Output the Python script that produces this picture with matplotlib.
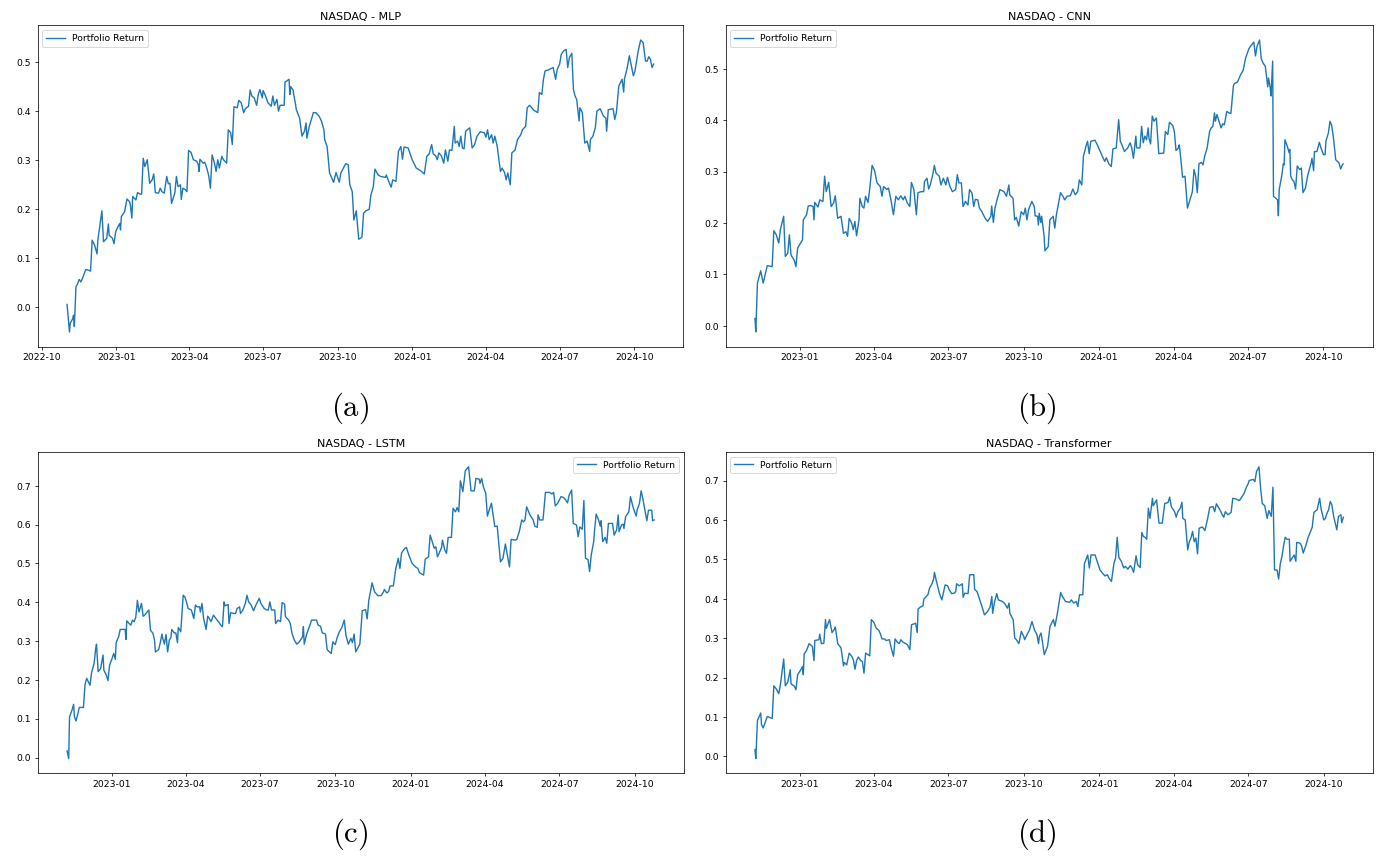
import matplotlib
matplotlib.use('Agg')
import matplotlib.pyplot as plt
import matplotlib.dates as mdates
import pandas as pd

# CM font for the (a)/(b)/(c)/(d) captions
plt.rcParams['mathtext.fontset'] = 'cm'

# values: day offset from the start date, return
mlp_start = '2022-11-01'
mlp_days = [0, 3, 4, 7, 8, 9, 11, 13, 15, 17, 19, 23, 26, 29, 31, 34, 37, 38, 43, 45,
            49, 51, 52, 56, 58, 60, 63, 65, 66, 67, 71, 74, 77, 78, 80, 81, 85, 87, 90, 92,
            94, 96, 99, 102, 105, 107, 109, 113, 115, 117, 120, 123, 125, 127, 129, 133, 135, 137, 140, 141,
            143, 146, 148, 150, 153, 156, 160, 162, 163, 164, 168, 170, 173, 175, 177, 179, 182, 184, 186, 188,
            191, 193, 197, 199, 202, 204, 206, 210, 212, 215, 218, 220, 224, 226, 228, 231, 234, 236, 238, 241,
            242, 245, 248, 252, 254, 256, 259, 261, 263, 268, 269, 274, 275, 276, 279, 280, 282, 283, 287, 290,
            293, 295, 296, 299, 302, 304, 307, 311, 314, 317, 318, 321, 324, 329, 332, 336, 338, 342, 344, 347,
            349, 352, 354, 357, 360, 364, 366, 369, 373, 375, 378, 380, 384, 387, 393, 394, 397, 400, 402, 406,
            409, 412, 414, 416, 421, 426, 431, 436, 441, 444, 447, 450, 452, 455, 457, 459, 462, 465, 467, 470,
            472, 475, 478, 479, 482, 484, 486, 488, 490, 492, 494, 497, 500, 503, 506, 510, 515, 517, 519, 521,
            524, 526, 528, 531, 533, 535, 537, 540, 542, 544, 547, 549, 553, 556, 560, 562, 566, 568, 571, 576,
            581, 583, 586, 588, 590, 594, 600, 603, 605, 608, 610, 613, 616, 618, 620, 623, 625, 627, 629, 632,
            633, 636, 639, 642, 645, 646, 649, 652, 654, 658, 662, 665, 666, 668, 674, 676, 678, 681, 685, 687,
            688, 691, 694, 697, 699, 701, 705, 708, 711, 714, 716, 718, 720, 722, 724]
mlp_vals = [0.006, -0.050, -0.032, -0.023, -0.016, -0.039, 0.042, 0.048, 0.057, 0.052, 0.059, 0.077, 0.076, 0.074, 0.137, 0.127, 0.109, 0.137, 0.197, 0.134,
            0.141, 0.170, 0.147, 0.141, 0.130, 0.154, 0.165, 0.171, 0.158, 0.185, 0.195, 0.221, 0.216, 0.211, 0.182, 0.226, 0.219, 0.234, 0.231, 0.231,
            0.304, 0.287, 0.301, 0.253, 0.260, 0.272, 0.234, 0.233, 0.243, 0.236, 0.233, 0.267, 0.252, 0.253, 0.212, 0.233, 0.267, 0.246, 0.250, 0.220,
            0.243, 0.240, 0.236, 0.320, 0.316, 0.301, 0.298, 0.291, 0.277, 0.302, 0.294, 0.296, 0.281, 0.267, 0.243, 0.311, 0.294, 0.277, 0.301, 0.284,
            0.308, 0.301, 0.294, 0.362, 0.356, 0.332, 0.409, 0.407, 0.422, 0.417, 0.397, 0.405, 0.410, 0.443, 0.431, 0.427, 0.412, 0.434, 0.444, 0.427,
            0.442, 0.431, 0.417, 0.410, 0.431, 0.412, 0.424, 0.400, 0.412, 0.412, 0.459, 0.465, 0.434, 0.450, 0.443, 0.432, 0.414, 0.403, 0.386, 0.349,
            0.359, 0.376, 0.345, 0.369, 0.386, 0.397, 0.397, 0.390, 0.380, 0.362, 0.342, 0.328, 0.274, 0.255, 0.275, 0.255, 0.274, 0.287, 0.293, 0.291,
            0.250, 0.236, 0.178, 0.197, 0.139, 0.143, 0.192, 0.197, 0.200, 0.229, 0.246, 0.282, 0.270, 0.267, 0.265, 0.270, 0.257, 0.245, 0.260, 0.257,
            0.318, 0.328, 0.302, 0.327, 0.325, 0.301, 0.284, 0.279, 0.272, 0.308, 0.313, 0.332, 0.313, 0.309, 0.301, 0.315, 0.309, 0.294, 0.321, 0.298,
            0.321, 0.320, 0.369, 0.335, 0.339, 0.328, 0.349, 0.325, 0.323, 0.359, 0.362, 0.366, 0.325, 0.332, 0.349, 0.358, 0.356, 0.347, 0.362, 0.342,
            0.352, 0.335, 0.349, 0.328, 0.301, 0.277, 0.284, 0.275, 0.260, 0.274, 0.250, 0.315, 0.321, 0.342, 0.352, 0.362, 0.369, 0.407, 0.412, 0.402,
            0.397, 0.438, 0.434, 0.465, 0.482, 0.484, 0.489, 0.465, 0.485, 0.496, 0.516, 0.523, 0.526, 0.489, 0.509, 0.518, 0.444, 0.431, 0.424, 0.380,
            0.407, 0.397, 0.335, 0.339, 0.318, 0.342, 0.349, 0.366, 0.400, 0.405, 0.390, 0.386, 0.359, 0.403, 0.405, 0.383, 0.397, 0.451, 0.465, 0.439,
            0.466, 0.485, 0.513, 0.489, 0.472, 0.482, 0.523, 0.545, 0.540, 0.502, 0.502, 0.511, 0.506, 0.489, 0.496]

cnn_start = '2022-11-07'
cnn_days = [0, 1, 3, 7, 10, 15, 21, 23, 26, 29, 31, 35, 37, 40, 42, 44, 48, 50, 52, 56,
            58, 59, 63, 65, 68, 71, 72, 73, 77, 79, 83, 85, 87, 90, 93, 96, 98, 101, 105, 108,
            111, 113, 115, 118, 120, 122, 124, 127, 128, 131, 133, 135, 138, 140, 143, 146, 149, 153, 155, 157,
            161, 163, 166, 169, 172, 175, 178, 181, 183, 186, 189, 191, 194, 197, 199, 203, 206, 207, 210, 212,
            214, 217, 219, 221, 225, 227, 230, 233, 235, 238, 241, 245, 247, 249, 252, 254, 257, 260, 262, 265,
            267, 269, 272, 274, 277, 281, 284, 288, 289, 291, 293, 296, 299, 304, 307, 310, 311, 315, 317, 319,
            322, 325, 328, 330, 332, 334, 338, 341, 342, 345, 346, 347, 349, 350, 353, 354, 358, 360, 364, 366,
            368, 373, 376, 378, 381, 385, 388, 391, 394, 396, 399, 401, 404, 406, 408, 410, 415, 418, 424, 427,
            429, 432, 435, 437, 441, 444, 446, 448, 451, 455, 458, 460, 462, 465, 466, 470, 472, 474, 476, 478,
            480, 481, 483, 485, 487, 490, 493, 499, 501, 504, 506, 510, 512, 514, 517, 518, 520, 522, 525, 528,
            531, 534, 536, 538, 540, 542, 545, 547, 549, 552, 555, 557, 559, 561, 562, 564, 569, 571, 573, 576,
            579, 581, 584, 585, 589, 593, 596, 599, 603, 605, 609, 611, 613, 616, 618, 620, 623, 626, 627, 629,
            630, 632, 633, 636, 638, 639, 640, 643, 645, 646, 647, 650, 652, 653, 654, 656, 658, 660, 662, 665,
            667, 669, 672, 675, 679, 680, 682, 683, 686, 689, 691, 694, 696, 697, 700, 702, 704, 706, 709, 713,
            715, 717, 718]
cnn_vals = [0.014, -0.012, 0.083, 0.107, 0.083, 0.117, 0.115, 0.185, 0.177, 0.161, 0.187, 0.213, 0.135, 0.141, 0.177, 0.138, 0.127, 0.115, 0.151, 0.162,
            0.167, 0.206, 0.216, 0.233, 0.234, 0.232, 0.206, 0.240, 0.231, 0.245, 0.242, 0.291, 0.261, 0.279, 0.232, 0.239, 0.253, 0.209, 0.213, 0.180,
            0.183, 0.174, 0.209, 0.200, 0.187, 0.203, 0.175, 0.206, 0.248, 0.232, 0.229, 0.252, 0.240, 0.265, 0.312, 0.302, 0.278, 0.271, 0.252, 0.271,
            0.265, 0.268, 0.245, 0.216, 0.252, 0.245, 0.253, 0.245, 0.252, 0.239, 0.232, 0.279, 0.265, 0.216, 0.259, 0.261, 0.261, 0.281, 0.287, 0.266,
            0.274, 0.294, 0.312, 0.297, 0.291, 0.274, 0.287, 0.274, 0.289, 0.271, 0.261, 0.265, 0.294, 0.278, 0.278, 0.232, 0.242, 0.235, 0.265, 0.258,
            0.232, 0.246, 0.245, 0.229, 0.222, 0.209, 0.203, 0.213, 0.233, 0.201, 0.229, 0.248, 0.265, 0.261, 0.252, 0.274, 0.255, 0.248, 0.206, 0.211,
            0.194, 0.222, 0.216, 0.229, 0.206, 0.226, 0.242, 0.232, 0.214, 0.213, 0.196, 0.219, 0.201, 0.213, 0.174, 0.146, 0.154, 0.206, 0.213, 0.190,
            0.216, 0.259, 0.252, 0.245, 0.252, 0.253, 0.266, 0.255, 0.261, 0.284, 0.274, 0.330, 0.349, 0.359, 0.335, 0.359, 0.361, 0.352, 0.330, 0.320,
            0.327, 0.315, 0.310, 0.344, 0.346, 0.401, 0.359, 0.352, 0.339, 0.346, 0.356, 0.346, 0.326, 0.369, 0.346, 0.346, 0.388, 0.356, 0.369, 0.362,
            0.385, 0.365, 0.354, 0.408, 0.398, 0.404, 0.335, 0.336, 0.378, 0.372, 0.396, 0.390, 0.378, 0.341, 0.346, 0.352, 0.323, 0.289, 0.291, 0.229,
            0.245, 0.261, 0.304, 0.291, 0.259, 0.315, 0.318, 0.313, 0.330, 0.346, 0.378, 0.385, 0.388, 0.414, 0.398, 0.411, 0.385, 0.393, 0.391, 0.417,
            0.414, 0.413, 0.466, 0.471, 0.474, 0.489, 0.497, 0.521, 0.539, 0.544, 0.552, 0.525, 0.544, 0.556, 0.520, 0.512, 0.505, 0.465, 0.482, 0.463,
            0.447, 0.515, 0.252, 0.248, 0.245, 0.214, 0.265, 0.291, 0.315, 0.313, 0.362, 0.349, 0.337, 0.343, 0.291, 0.284, 0.281, 0.266, 0.311, 0.304,
            0.307, 0.259, 0.268, 0.294, 0.317, 0.326, 0.302, 0.339, 0.339, 0.357, 0.346, 0.333, 0.333, 0.359, 0.375, 0.398, 0.390, 0.369, 0.323, 0.317,
            0.305, 0.313, 0.315]

lstm_start = '2022-11-07'
lstm_days = [0, 2, 3, 6, 8, 9, 11, 15, 20, 22, 24, 28, 30, 33, 35, 36, 38, 41, 42, 44,
             45, 48, 50, 52, 55, 57, 59, 60, 63, 65, 71, 72, 73, 76, 78, 80, 82, 84, 86, 88,
             91, 93, 95, 100, 102, 105, 107, 108, 112, 114, 116, 117, 119, 121, 123, 125, 127, 128, 131, 133,
             135, 136, 139, 142, 144, 146, 148, 152, 155, 157, 159, 162, 163, 165, 167, 170, 172, 174, 176, 179,
             182, 185, 188, 190, 192, 193, 197, 198, 200, 204, 206, 208, 211, 212, 215, 218, 220, 222, 225, 228,
             231, 235, 237, 241, 244, 246, 248, 250, 254, 255, 258, 261, 263, 266, 267, 271, 273, 275, 278, 281,
             284, 288, 289, 290, 293, 297, 299, 305, 307, 310, 312, 314, 316, 318, 321, 323, 325, 328, 330, 333,
             336, 339, 341, 344, 347, 349, 351, 353, 358, 361, 365, 367, 369, 373, 376, 380, 384, 387, 388, 391,
             393, 395, 399, 402, 405, 407, 409, 413, 415, 418, 422, 426, 429, 431, 436, 438, 442, 444, 446, 449,
             451, 453, 458, 459, 462, 464, 466, 470, 472, 475, 477, 479, 481, 484, 487, 491, 494, 498, 500, 504,
             505, 507, 509, 512, 514, 516, 519, 521, 523, 526, 530, 533, 536, 538, 541, 543, 548, 550, 553, 556,
             558, 560, 562, 566, 570, 572, 575, 576, 578, 582, 585, 590, 593, 595, 597, 600, 604, 607, 610, 612,
             614, 617, 619, 623, 625, 627, 630, 632, 634, 637, 639, 641, 644, 645, 647, 650, 652, 653, 655, 658,
             660, 662, 667, 669, 672, 674, 675, 678, 680, 681, 683, 687, 689, 692, 694, 696, 697, 700, 702, 704,
             707, 709, 711, 715, 716, 718]
lstm_vals = [0.017, -0.003, 0.105, 0.122, 0.137, 0.105, 0.094, 0.129, 0.129, 0.189, 0.204, 0.186, 0.219, 0.242, 0.281, 0.292, 0.221, 0.229, 0.241, 0.264,
             0.225, 0.212, 0.198, 0.238, 0.255, 0.268, 0.253, 0.296, 0.311, 0.330, 0.330, 0.304, 0.352, 0.345, 0.341, 0.354, 0.350, 0.361, 0.405, 0.375,
             0.397, 0.364, 0.367, 0.380, 0.328, 0.320, 0.302, 0.272, 0.278, 0.296, 0.318, 0.307, 0.292, 0.317, 0.272, 0.302, 0.309, 0.330, 0.321, 0.321,
             0.296, 0.335, 0.324, 0.418, 0.414, 0.401, 0.384, 0.380, 0.358, 0.393, 0.388, 0.388, 0.375, 0.397, 0.358, 0.330, 0.364, 0.358, 0.350, 0.367,
             0.358, 0.350, 0.341, 0.337, 0.401, 0.391, 0.394, 0.345, 0.373, 0.371, 0.371, 0.384, 0.388, 0.371, 0.380, 0.397, 0.418, 0.401, 0.393, 0.378,
             0.393, 0.410, 0.397, 0.384, 0.380, 0.380, 0.401, 0.380, 0.380, 0.345, 0.354, 0.350, 0.399, 0.395, 0.363, 0.354, 0.345, 0.320, 0.302, 0.292,
             0.298, 0.311, 0.337, 0.292, 0.318, 0.341, 0.354, 0.354, 0.341, 0.338, 0.321, 0.320, 0.318, 0.278, 0.272, 0.268, 0.298, 0.291, 0.307, 0.324,
             0.335, 0.354, 0.315, 0.292, 0.307, 0.296, 0.318, 0.272, 0.292, 0.378, 0.381, 0.357, 0.405, 0.450, 0.427, 0.417, 0.417, 0.427, 0.433, 0.424,
             0.427, 0.442, 0.442, 0.487, 0.513, 0.487, 0.527, 0.539, 0.541, 0.521, 0.500, 0.491, 0.487, 0.476, 0.470, 0.511, 0.517, 0.573, 0.560, 0.539,
             0.543, 0.517, 0.541, 0.560, 0.534, 0.526, 0.567, 0.567, 0.642, 0.633, 0.644, 0.633, 0.713, 0.685, 0.739, 0.749, 0.687, 0.687, 0.719, 0.717,
             0.706, 0.719, 0.698, 0.680, 0.622, 0.636, 0.655, 0.625, 0.595, 0.596, 0.504, 0.513, 0.550, 0.527, 0.491, 0.562, 0.560, 0.562, 0.582, 0.612,
             0.607, 0.612, 0.646, 0.625, 0.612, 0.596, 0.593, 0.625, 0.612, 0.612, 0.683, 0.683, 0.679, 0.683, 0.648, 0.655, 0.672, 0.670, 0.663, 0.656,
             0.676, 0.689, 0.603, 0.599, 0.569, 0.594, 0.588, 0.662, 0.513, 0.510, 0.479, 0.522, 0.556, 0.584, 0.627, 0.612, 0.596, 0.610, 0.556, 0.567,
             0.552, 0.603, 0.603, 0.573, 0.586, 0.625, 0.582, 0.599, 0.601, 0.590, 0.620, 0.633, 0.672, 0.646, 0.633, 0.622, 0.637, 0.655, 0.687, 0.668,
             0.633, 0.610, 0.637, 0.637, 0.610, 0.612]

tf_start = '2022-11-07'
tf_days = [0, 1, 3, 7, 8, 10, 15, 21, 23, 26, 29, 31, 35, 37, 40, 43, 44, 48, 50, 52,
           56, 58, 59, 60, 63, 66, 70, 72, 73, 78, 79, 81, 84, 86, 87, 91, 94, 97, 98, 101,
           105, 108, 109, 112, 113, 115, 118, 120, 122, 124, 126, 129, 131, 133, 135, 138, 140, 142, 145, 148,
           151, 153, 155, 158, 160, 164, 166, 169, 171, 174, 176, 178, 181, 184, 186, 189, 191, 194, 196, 198,
           199, 202, 205, 206, 209, 211, 213, 216, 218, 219, 221, 223, 225, 228, 230, 232, 235, 237, 240, 243,
           245, 246, 249, 251, 253, 254, 256, 260, 262, 267, 268, 271, 274, 277, 280, 284, 287, 289, 290, 292,
           295, 297, 302, 305, 308, 310, 311, 315, 317, 319, 322, 325, 328, 329, 332, 335, 338, 341, 344, 346,
           347, 349, 351, 353, 357, 360, 364, 366, 369, 373, 375, 379, 384, 386, 389, 392, 394, 396, 400, 402,
           406, 408, 410, 415, 418, 421, 424, 427, 430, 432, 435, 438, 440, 442, 444, 447, 450, 452, 455, 458,
           460, 462, 465, 467, 470, 472, 474, 476, 478, 480, 482, 485, 486, 490, 493, 497, 500, 504, 506, 508,
           512, 514, 516, 519, 521, 522, 525, 528, 530, 532, 534, 536, 538, 540, 542, 546, 549, 552, 555, 559,
           561, 563, 567, 571, 572, 574, 577, 581, 583, 587, 591, 593, 597, 599, 602, 603, 608, 610, 612, 615,
           617, 619, 622, 625, 627, 628, 630, 632, 634, 637, 639, 641, 643, 645, 647, 649, 652, 653, 656, 658,
           660, 661, 665, 667, 669, 672, 675, 678, 680, 682, 686, 689, 691, 694, 696, 698, 700, 702, 704, 706,
           708, 710, 712, 715, 716, 718]
tf_vals = [0.017, -0.006, 0.091, 0.110, 0.080, 0.072, 0.101, 0.096, 0.179, 0.171, 0.159, 0.182, 0.247, 0.179, 0.188, 0.220, 0.184, 0.178, 0.169, 0.207,
           0.220, 0.228, 0.207, 0.260, 0.269, 0.286, 0.279, 0.243, 0.294, 0.296, 0.310, 0.286, 0.287, 0.347, 0.325, 0.347, 0.314, 0.323, 0.328, 0.286,
           0.275, 0.230, 0.238, 0.232, 0.243, 0.262, 0.254, 0.245, 0.221, 0.243, 0.252, 0.243, 0.241, 0.211, 0.262, 0.258, 0.255, 0.347, 0.340, 0.325,
           0.320, 0.311, 0.298, 0.298, 0.294, 0.296, 0.277, 0.254, 0.298, 0.289, 0.286, 0.296, 0.289, 0.286, 0.283, 0.271, 0.334, 0.336, 0.338, 0.314,
           0.374, 0.379, 0.382, 0.399, 0.406, 0.410, 0.427, 0.438, 0.450, 0.467, 0.448, 0.431, 0.414, 0.397, 0.416, 0.435, 0.433, 0.423, 0.413, 0.414,
           0.418, 0.438, 0.433, 0.435, 0.438, 0.404, 0.414, 0.413, 0.461, 0.461, 0.424, 0.418, 0.399, 0.380, 0.359, 0.368, 0.380, 0.406, 0.363, 0.389,
           0.413, 0.397, 0.393, 0.387, 0.376, 0.389, 0.363, 0.347, 0.300, 0.296, 0.286, 0.317, 0.304, 0.296, 0.309, 0.321, 0.342, 0.321, 0.309, 0.286,
           0.304, 0.313, 0.287, 0.258, 0.279, 0.330, 0.347, 0.330, 0.363, 0.416, 0.406, 0.393, 0.391, 0.397, 0.389, 0.393, 0.380, 0.410, 0.410, 0.489,
           0.511, 0.478, 0.511, 0.511, 0.492, 0.473, 0.465, 0.458, 0.461, 0.452, 0.444, 0.490, 0.503, 0.556, 0.505, 0.495, 0.478, 0.482, 0.475, 0.484,
           0.478, 0.467, 0.509, 0.486, 0.479, 0.568, 0.558, 0.556, 0.551, 0.630, 0.604, 0.655, 0.636, 0.651, 0.592, 0.592, 0.642, 0.644, 0.658, 0.634,
           0.621, 0.607, 0.621, 0.630, 0.645, 0.604, 0.600, 0.524, 0.545, 0.554, 0.571, 0.545, 0.554, 0.514, 0.579, 0.582, 0.573, 0.600, 0.632, 0.634,
           0.621, 0.641, 0.627, 0.610, 0.607, 0.621, 0.613, 0.619, 0.655, 0.653, 0.649, 0.655, 0.668, 0.680, 0.693, 0.700, 0.703, 0.697, 0.723, 0.735,
           0.680, 0.642, 0.636, 0.604, 0.624, 0.619, 0.609, 0.683, 0.473, 0.473, 0.450, 0.489, 0.507, 0.534, 0.556, 0.551, 0.551, 0.495, 0.505, 0.511,
           0.495, 0.543, 0.541, 0.534, 0.516, 0.534, 0.556, 0.571, 0.582, 0.619, 0.626, 0.655, 0.626, 0.600, 0.604, 0.617, 0.626, 0.647, 0.638, 0.610,
           0.592, 0.575, 0.609, 0.613, 0.593, 0.607]

titles = ['NASDAQ - MLP', 'NASDAQ - CNN', 'NASDAQ - LSTM', 'NASDAQ - Transformer']
captions = ['(a)', '(b)', '(c)', '(d)']


def to_dates(start, days):
    return pd.Timestamp(start) + pd.to_timedelta(days, unit='D')


fig = plt.figure(figsize=(20.56, 12.81), dpi=67)

# axes boxes [left, bottom, width, height] and caption spots
rects = [[0.02738, 0.59592, 0.46841, 0.37413],
         [0.52672, 0.59592, 0.46964, 0.37413],
         [0.02738, 0.09872, 0.46885, 0.37413],
         [0.52672, 0.09872, 0.46986, 0.37413]]
cap_pos = [(0.2542, 0.5245), (0.7524, 0.5245), (0.2542, 0.0275), (0.7524, 0.0275)]
legend_locs = ['upper left', 'upper left', 'upper right', 'upper left']

series = [(mlp_start, mlp_days, mlp_vals),
          (cnn_start, cnn_days, cnn_vals),
          (lstm_start, lstm_days, lstm_vals),
          (tf_start, tf_days, tf_vals)]

for i, (start, days, vals) in enumerate(series):
    ax = fig.add_axes(rects[i])
    ax.plot(to_dates(start, days), vals, color='#1f77b4', label='Portfolio Return')
    ax.set_title(titles[i])
    ax.legend(loc=legend_locs[i])
    ax.xaxis.set_major_locator(mdates.MonthLocator(bymonth=[1, 4, 7, 10]))
    ax.xaxis.set_major_formatter(mdates.DateFormatter('%Y-%m'))
    fig.text(cap_pos[i][0], cap_pos[i][1], r'$\mathrm{' + captions[i] + '}$',
             fontsize=33, ha='center', va='center')

fig.savefig('out.png', dpi=67)
